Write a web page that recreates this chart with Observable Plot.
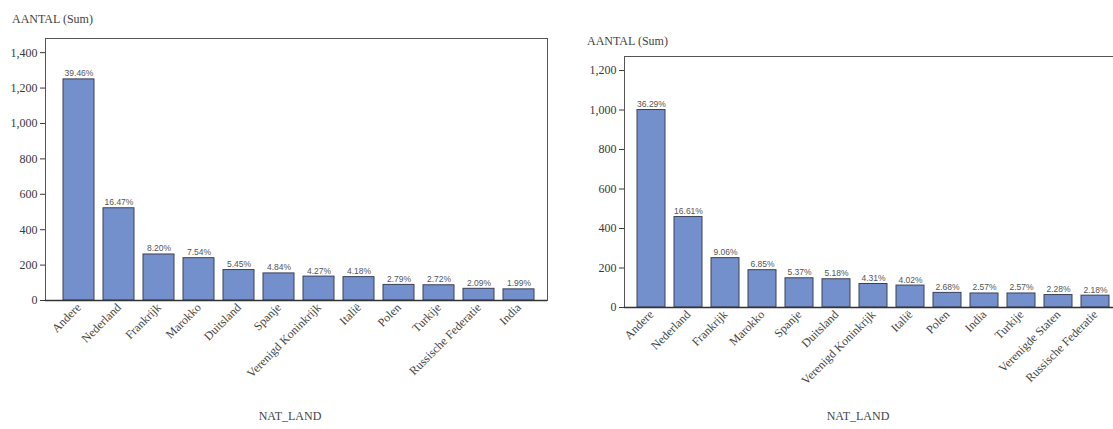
<!DOCTYPE html>
<html><head><meta charset="utf-8">
<script src="https://cdn.jsdelivr.net/npm/d3@7"></script>
<script src="https://cdn.jsdelivr.net/npm/@observablehq/plot@0.6"></script>
<style>
body{margin:0;background:#fff;}
#wrap{position:relative;width:1113px;height:429px;overflow:hidden;background:#fff;font-family:"Liberation Serif","Times New Roman",serif;color:#444;}
.lab{position:absolute;font-size:12px;white-space:nowrap;color:#444;}
.plot{position:absolute;top:0;}
</style></head><body><div id="wrap"></div>
<script>
// Left chart
const leftCategories = ["Andere","Nederland","Frankrijk","Marokko","Duitsland","Spanje","Verenigd Koninkrijk","Italië","Polen","Turkije","Russische Federatie","India"];
const leftCounts = [1249, 521, 260, 239, 172, 153, 135, 132, 88, 86, 66, 63];
const leftPercents = [39.46, 16.47, 8.20, 7.54, 5.45, 4.84, 4.27, 4.18, 2.79, 2.72, 2.09, 1.99];
const leftTicks = [0, 200, 400, 600, 800, 1000, 1200, 1400];

// Right chart
const rightCategories = ["Andere","Nederland","Frankrijk","Marokko","Spanje","Duitsland","Verenigd Koninkrijk","Italië","Polen","India","Turkije","Verenigde Staten","Russische Federatie"];
const rightCounts = [1000, 458, 250, 189, 148, 143, 119, 111, 74, 71, 71, 63, 60];
const rightPercents = [36.29, 16.61, 9.06, 6.85, 5.37, 5.18, 4.31, 4.02, 2.68, 2.57, 2.57, 2.28, 2.18];
const rightTicks = [0, 200, 400, 600, 800, 1000, 1200];

const yTitle = "AANTAL (Sum)";
const xTitle = "NAT_LAND";

function chart({cats, counts, pcts, yMax, yTicks, width, height, mt, mb, ml, mr, insetLeft, insetRight}) {
  const data = cats.map((c, i) => ({cat: c, v: counts[i], p: pcts[i]}));
  return Plot.plot({
    width, height, marginTop: mt, marginBottom: mb, marginLeft: ml, marginRight: mr,
    style: {fontFamily: '"Liberation Serif", "Times New Roman", serif', fontSize: "11px", color: "#3a3a3a", background: "transparent", overflow: "visible"},
    x: {domain: cats, padding: 0.235, insetLeft, insetRight, label: null},
    y: {domain: [0, yMax], label: null},
    marks: [
      Plot.frame({stroke: "#555", strokeWidth: 1}),
      Plot.barY(data, {x: "cat", y: "v", fill: "#7490CC", stroke: "#3a4058", strokeWidth: 1}),
      Plot.text(data, {x: "cat", y: "v", text: d => d.p.toFixed(2) + "%", lineAnchor: "bottom", dy: -3, fontSize: 8.5, fontFamily: '"Liberation Sans", Arial, sans-serif', fill: "#555"}),
      Plot.axisY({ticks: yTicks, tickFormat: d3.format(","), tickSize: 5, tickPadding: 3, label: null, fontSize: 12}),
      Plot.axisX({tickRotate: -45, tickSize: 0, tickPadding: 5, label: null, fontSize: 12, fill: "#444"}),
      Plot.ruleY([0], {stroke: "#333", strokeWidth: 1.5})
    ]
  });
}

const wrap = document.getElementById("wrap");

const left = chart({cats: leftCategories, counts: leftCounts, pcts: leftPercents, yMax: 1480, yTicks: leftTicks,
  width: 556, height: 429, mt: 38, mb: 129, ml: 45, mr: 9, insetLeft: 5.5, insetRight: 1});
left.classList.add("plot"); left.style.left = "0px";
wrap.appendChild(left);

const right = chart({cats: rightCategories, counts: rightCounts, pcts: rightPercents, yMax: 1271, yTicks: rightTicks,
  width: 570, height: 429, mt: 56, mb: 122, ml: 64, mr: 8, insetLeft: 1, insetRight: 0.5});
right.classList.add("plot"); right.style.left = "560px";
wrap.appendChild(right);

function label(text, x, y, anchorCenter) {
  const d = document.createElement("div");
  d.className = "lab";
  d.textContent = text;
  d.style.left = x + "px";
  d.style.top = y + "px";
  if (anchorCenter) d.style.transform = "translateX(-50%)";
  wrap.appendChild(d);
}
label(yTitle, 12, 12);
label(yTitle, 587, 34);
label(xTitle, 290, 409, true);
label(xTitle, 858, 409, true);
</script>
</body></html>
